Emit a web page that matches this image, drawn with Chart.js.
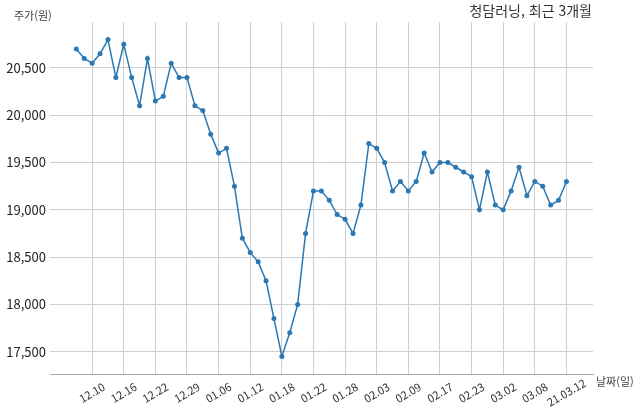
<!DOCTYPE html>
<html lang="ko">
<head>
  <meta charset="UTF-8">
  <title>청담러닝, 최근 3개월</title>
  <script src="https://cdn.jsdelivr.net/npm/chart.js"></script>
  <style>
    * {
      margin: 0;
      padding: 0;
      box-sizing: border-box;
    }

    body {
      background: #fff;
      font-family: 'Noto Sans CJK KR', 'Noto Sans', sans-serif;
    }

    .wrap {
      position: relative;
      width: 640px;
      height: 414px;
    }

    .label {
      position: absolute;
      line-height: 1;
      white-space: nowrap;
      color: #444;
    }

    .y-title { left: 14px; top: 10px; font-size: 11px; }
    .x-title { left: 596px; top: 376px; font-size: 11px; }
    .chart-title { right: 48px; top: 3px; font-size: 14px; color: #333; }
  </style>
</head>
<body>
  <div class="wrap">
    <canvas id="priceChart"></canvas>
    <div class="label y-title">주가(원)</div>
    <div class="label chart-title">청담러닝, 최근 3개월</div>
    <div class="label x-title">날짜(일)</div>
  </div>

  <script>
    // trading days, last 3 months
    const dates = [
      '12.08', '12.09', '12.10', '12.11', '12.14', '12.15', '12.16', '12.17', '12.18', '12.21',
      '12.22', '12.23', '12.24', '12.28', '12.29', '12.30', '01.04', '01.05', '01.06', '01.07',
      '01.08', '01.11', '01.12', '01.13', '01.14', '01.15', '01.18', '01.19', '01.20', '01.21',
      '01.22', '01.25', '01.26', '01.27', '01.28', '01.29', '02.01', '02.02', '02.03', '02.04',
      '02.05', '02.08', '02.09', '02.10', '02.15', '02.16', '02.17', '02.18', '02.19', '02.22',
      '02.23', '02.24', '02.25', '02.26', '03.02', '03.03', '03.04', '03.05', '03.08', '03.09',
      '03.10', '03.11', '21.03.12'
    ];

    // closing price (원)
    const prices = [
      20700, 20600, 20550, 20650, 20800, 20400, 20750, 20400, 20100, 20600,
      20150, 20200, 20550, 20400, 20400, 20100, 20050, 19800, 19600, 19650,
      19250, 18700, 18550, 18450, 18250, 17850, 17450, 17700, 18000, 18750,
      19200, 19200, 19100, 18950, 18900, 18750, 19050, 19700, 19650, 19500,
      19200, 19300, 19200, 19300, 19600, 19400, 19500, 19500, 19450, 19400,
      19350, 19000, 19400, 19050, 19000, 19200, 19450, 19150, 19300, 19250,
      19050, 19100, 19300
    ];

    const tickDates = [
      '12.10', '12.16', '12.22', '12.29', '01.06', '01.12', '01.18', '01.22',
      '01.28', '02.03', '02.09', '02.17', '02.23', '03.02', '03.08', '21.03.12'
    ];
    const yTicks = [17500, 18000, 18500, 19000, 19500, 20000, 20500];

    const points = prices.map((p, i) => ({ x: i, y: p }));
    const tickIdx = tickDates.map(d => dates.indexOf(d));

    const FONT = "'Noto Sans CJK KR', 'Noto Sans', sans-serif";
    const GRID = '#cfcfcf';

    new Chart(document.getElementById('priceChart'), {
      type: 'line',
      data: {
        datasets: [{
          data: points,
          borderColor: '#2b78b3',
          backgroundColor: '#2b78b3',
          borderWidth: 1.5,
          pointRadius: 2.5,
          pointHoverRadius: 2.5,
          pointBorderWidth: 0,
          tension: 0
        }]
      },
      options: {
        responsive: true,
        maintainAspectRatio: false,
        animation: false,
        events: [],
        layout: { padding: { top: 22, right: 47, left: 0, bottom: 0 } },
        plugins: {
          legend: { display: false },
          tooltip: { enabled: false }
        },
        scales: {
          x: {
            type: 'linear',
            min: -3.33,
            max: 65.36,
            afterBuildTicks: scale => {
              scale.ticks = tickIdx.map(v => ({ value: v }));
            },
            afterFit: scale => {
              scale.height = 40;
              // centre rotated labels on their tick
              scale._getXAxisLabelAlignment = () => 'center';
            },
            ticks: {
              autoSkip: false,
              minRotation: 30,
              maxRotation: 30,
              padding: 13,
              color: '#333',
              font: { family: FONT, size: 11 },
              callback: v => dates[v]
            },
            grid: { color: GRID, lineWidth: 1, drawTicks: false },
            border: { display: true, color: '#aaa', width: 1 }
          },
          y: {
            min: 17264,
            max: 20986,
            afterBuildTicks: scale => {
              scale.ticks = yTicks.map(v => ({ value: v }));
            },
            afterFit: scale => {
              scale.width = 50;
            },
            ticks: {
              padding: 4,
              color: '#222',
              font: { family: FONT, size: 13 },
              callback: v => v.toLocaleString('en-US')
            },
            grid: { color: GRID, lineWidth: 1, drawTicks: false },
            border: { display: false }
          }
        }
      }
    });
  </script>
</body>
</html>
